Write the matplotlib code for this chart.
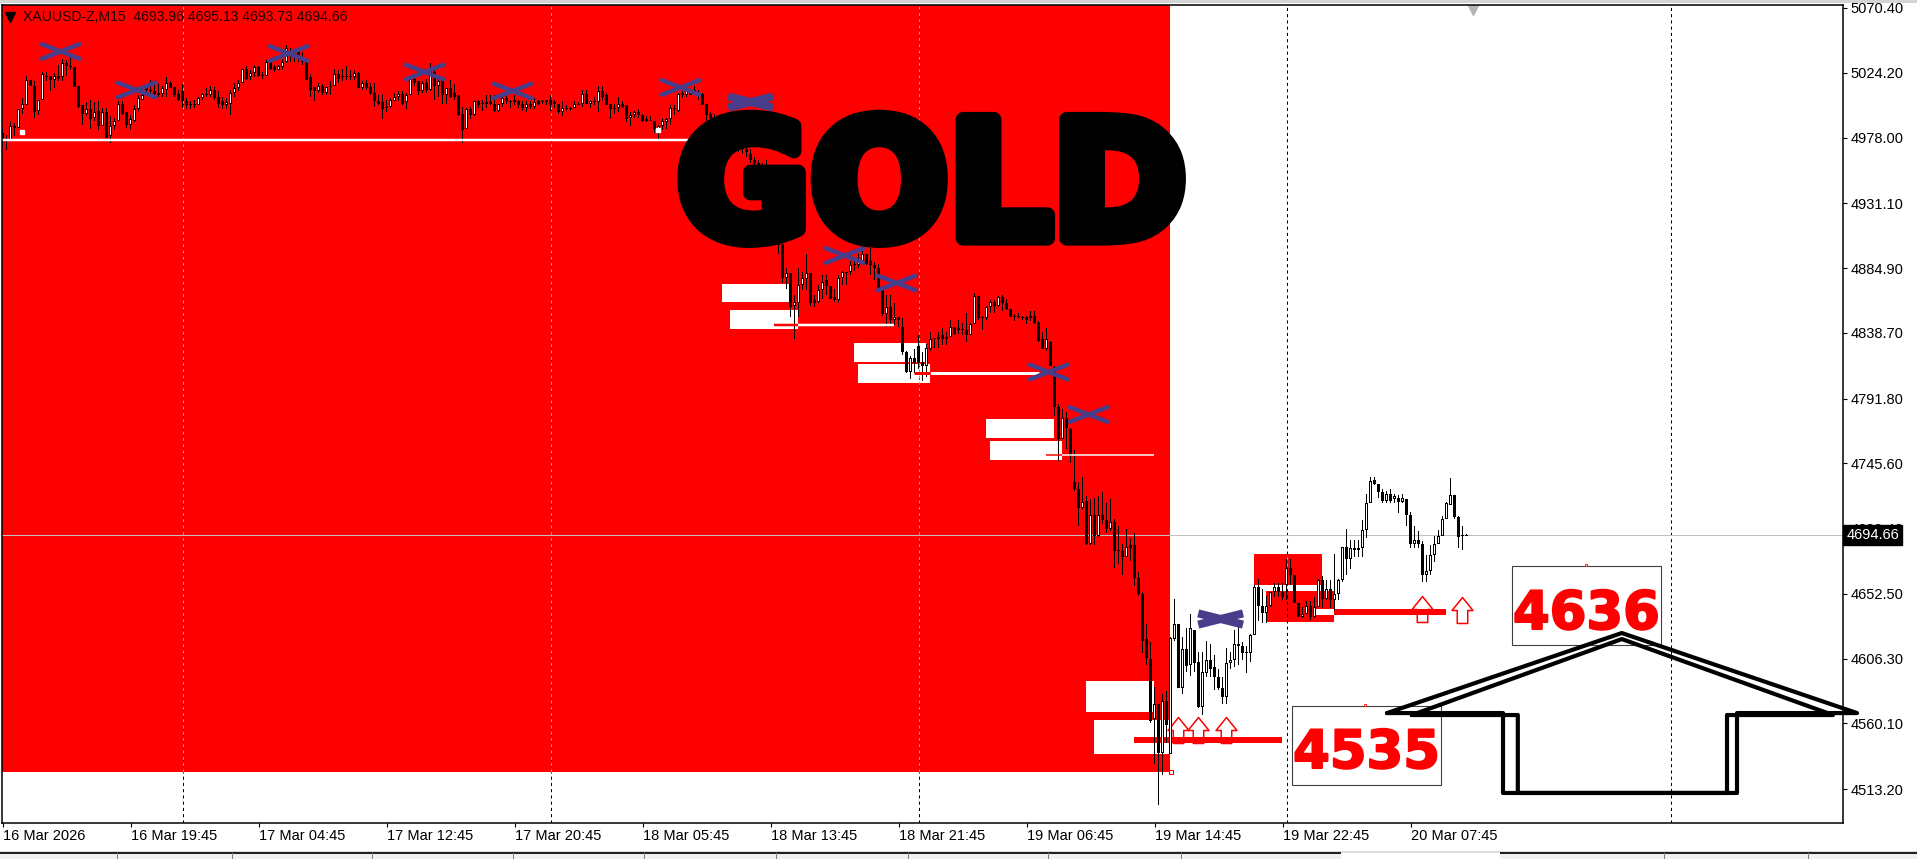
import matplotlib
matplotlib.use("Agg")
import matplotlib.pyplot as plt
import matplotlib.patheffects as pe
from matplotlib.patches import Rectangle
from matplotlib.path import Path

# 1. DATA (M15 bars; part of it sits under the GOLD title)
opens = [
    4981,4976,4976,4986,4985,4998,5001,5019,5015,4997,
    5005,5022,5022,5019,5022,5021,5031,5029,5028,5015,
    5001,4995,4998,4992,4997,4986,4996,4979,4986,4990,
    5002,4996,4987,4990,4998,5005,5013,5012,5011,5010,
    5009,5012,5017,5014,5009,5011,5004,5002,5002,5001,
    5006,5009,5008,5012,5007,5004,5001,5002,5010,5013,
    5017,5027,5021,5024,5028,5022,5022,5032,5028,5026,
    5028,5032,5040,5037,5039,5035,5032,5021,5014,5011,
    5015,5010,5014,5015,5023,5022,5022,5022,5021,5024,
    5013,5017,5014,5010,5004,5003,4999,5000,5004,5007,
    5009,5003,5008,5020,5018,5011,5017,5012,5025,5015,
    5018,5008,5013,5010,5008,4995,4984,4998,4994,5004,
    5002,5002,5003,5002,4997,5002,5006,5004,5005,5004,
    5002,4999,5002,5000,5004,5004,5003,5005,5003,5002,
    4996,4999,4999,4999,5002,5002,5009,5002,5004,5003,
    5011,5008,5002,4999,4999,5002,5001,4992,4994,4996,
    4994,4991,4990,4990,4984,4986,4989,4991,4999,4997,
    5010,5008,5010,5012,5008,5009,5002,4995,4992,4988,
    4984,4980,4978,4976,4974,4972,4970,4966,4962,4960,
    4958,4955,4935,4915,4909,4902,4878,4881,4858,4860,
    4873,4877,4881,4862,4861,4869,4876,4872,4864,4862,
    4878,4882,4882,4887,4887,4890,4895,4890,4887,4885,
    4869,4852,4857,4848,4850,4843,4825,4811,4821,4829,
    4818,4815,4827,4835,4834,4837,4834,4836,4843,4842,
    4841,4841,4837,4845,4865,4849,4849,4857,4861,4858,
    4864,4860,4856,4851,4851,4850,4850,4851,4851,4846,
    4834,4827,4832,4814,4786,4763,4778,4770,4732,4727,
    4714,4719,4688,4709,4694,4709,4705,4699,4704,4684,
    4683,4679,4687,4687,4664,4652,4620,4606,4563,4574,
    4539,4576,4538,4620,4631,4585,4613,4602,4627,4604,
    4572,4596,4605,4600,4593,4585,4579,4603,4605,4617,
    4615,4610,4610,4623,4657,4644,4639,4644,4654,4657,
    4654,4659,4671,4666,4646,4636,4638,4644,4636,4643,
    4662,4649,4656,4648,4652,4662,4686,4677,4685,4684,
    4685,4698,4717,4734,4731,4725,4719,4724,4720,4721,
    4718,4720,4709,4688,4691,4688,4666,4669,4680,4688,
    4694,4706,4716,4723,4707,4694,4693.96,
]
highs = [
    4985,4980,4990,4988,4998,5006,5022,5019,5018,5005,
    5025,5025,5022,5024,5030,5034,5033,5036,5028,5015,
    5001,5003,5005,5003,5004,4999,4999,4993,4992,5004,
    5004,4996,4994,5001,5008,5013,5016,5019,5018,5016,
    5015,5021,5018,5014,5012,5016,5006,5004,5005,5007,
    5010,5013,5015,5014,5011,5007,5006,5012,5017,5019,
    5027,5029,5026,5030,5029,5025,5033,5033,5030,5030,
    5034,5044,5042,5040,5041,5039,5032,5023,5014,5017,
    5016,5014,5018,5027,5026,5027,5029,5026,5026,5025,
    5018,5019,5017,5017,5008,5009,5005,5006,5010,5011,
    5011,5010,5022,5022,5018,5018,5020,5031,5026,5021,
    5020,5013,5019,5016,5008,5000,4999,5000,5004,5005,
    5005,5008,5008,5008,5002,5008,5008,5005,5008,5005,
    5004,5004,5004,5006,5005,5005,5005,5008,5005,5002,
    5004,5001,5000,5004,5003,5012,5012,5005,5007,5015,
    5015,5010,5002,5002,5007,5004,5001,4996,4997,4998,
    4995,4993,4993,4990,4987,4992,4992,5001,5001,5010,
    5011,5013,5012,5015,5012,5010,5002,4996,4995,4990,
    4986,4984,4982,4980,4978,4975,4973,4970,4964,4962,
    4960,4962,4938,4917,4912,4902,4885,4881,4866,4885,
    4882,4895,4881,4866,4873,4880,4880,4872,4870,4880,
    4883,4882,4890,4892,4895,4898,4895,4899,4889,4888,
    4872,4866,4866,4860,4850,4849,4826,4822,4827,4837,
    4825,4831,4839,4835,4839,4842,4839,4848,4843,4848,
    4846,4853,4846,4867,4865,4851,4858,4862,4862,4865,
    4866,4863,4856,4852,4853,4851,4851,4854,4854,4847,
    4839,4842,4833,4815,4788,4784,4782,4771,4755,4732,
    4736,4722,4720,4721,4722,4725,4717,4720,4706,4701,
    4688,4699,4692,4696,4668,4654,4631,4618,4586,4574,
    4581,4583,4622,4649,4631,4622,4628,4638,4627,4611,
    4611,4619,4617,4609,4599,4593,4614,4611,4627,4631,
    4618,4615,4624,4659,4663,4656,4651,4654,4660,4660,
    4660,4677,4677,4666,4646,4643,4647,4647,4650,4663,
    4665,4662,4662,4681,4663,4686,4699,4691,4691,4691,
    4705,4724,4736,4736,4731,4727,4726,4727,4724,4723,
    4724,4720,4711,4701,4697,4690,4680,4687,4694,4698,
    4708,4718,4735,4723,4708,4701,4695.13,
]
lows = [
    4971,4969,4976,4979,4985,4995,5001,5015,4992,4994,
    5005,5018,5011,5013,5018,5018,5022,5026,5014,4999,
    4987,4993,4984,4990,4983,4986,4978,4974,4983,4990,
    4994,4985,4983,4989,4997,5005,5010,5010,5007,5007,
    5007,5007,5013,5007,5004,4999,4998,4998,4999,5001,
    5005,5007,5007,5005,4999,4998,4998,4994,5007,5011,
    5017,5019,5019,5021,5021,5020,5022,5026,5025,5026,
    5026,5031,5032,5032,5032,5030,5019,5007,5004,5010,
    5008,5008,5008,5015,5017,5018,5019,5019,5019,5013,
    5012,5012,5008,5000,5001,4991,4996,4999,5004,5004,
    5001,4998,5008,5015,5008,5010,5010,5011,5005,5007,
    5002,5002,5006,5005,4993,4974,4984,4991,4993,4999,
    4997,4999,5001,4996,4996,5000,5002,4999,5001,4999,
    4997,4996,4998,4998,5001,5002,5001,4997,4999,4995,
    4993,4997,4997,4999,5001,5000,5002,4999,5001,4996,
    5004,5001,4991,4995,4996,4999,4989,4986,4992,4992,
    4989,4989,4990,4981,4976,4983,4984,4987,4994,4996,
    5006,5007,5008,5008,5005,5001,4990,4990,4985,4982,
    4978,4975,4972,4970,4968,4966,4964,4960,4958,4955,
    4940,4930,4915,4905,4895,4874,4870,4850,4834,4850,
    4869,4869,4858,4857,4860,4863,4866,4863,4861,4860,
    4873,4873,4880,4883,4885,4888,4887,4880,4876,4868,
    4851,4843,4843,4844,4843,4823,4810,4806,4810,4813,
    4804,4807,4826,4828,4828,4830,4830,4836,4837,4838,
    4837,4832,4837,4845,4848,4841,4848,4853,4853,4857,
    4854,4855,4850,4847,4849,4848,4845,4847,4845,4832,
    4827,4826,4815,4779,4747,4763,4756,4746,4726,4701,
    4712,4687,4687,4687,4693,4702,4696,4697,4671,4674,
    4666,4679,4676,4658,4651,4610,4602,4560,4531,4502,
    4523,4546,4538,4619,4585,4581,4597,4594,4597,4571,
    4566,4593,4593,4584,4584,4574,4574,4599,4600,4602,
    4605,4596,4604,4623,4633,4632,4632,4643,4650,4650,
    4648,4648,4659,4646,4636,4635,4638,4634,4635,4643,
    4642,4648,4642,4640,4648,4661,4666,4670,4679,4679,
    4679,4692,4717,4730,4721,4717,4717,4717,4717,4710,
    4717,4701,4685,4685,4685,4661,4661,4666,4675,4688,
    4694,4706,4716,4706,4685,4684,4693.73,
]
closes = [
    4975,4977,4986,4985,4998,5002,5019,5015,4996,5005,
    5023,5021,5019,5022,5020,5031,5029,5028,5014,5000,
    4995,4998,4991,4996,4986,4996,4978,4986,4990,5002,
    4995,4987,4991,4998,5006,5008,5012,5011,5009,5008,
    5013,5017,5013,5008,5005,5004,5001,5001,5001,5006,
    5009,5008,5012,5006,5002,5001,5003,5010,5013,5017,
    5027,5020,5024,5028,5022,5022,5032,5027,5026,5029,
    5032,5042,5037,5036,5037,5032,5019,5012,5011,5015,
    5010,5014,5015,5023,5020,5021,5021,5021,5024,5013,
    5017,5013,5010,5004,5002,4998,5000,5005,5007,5009,
    5002,5008,5020,5017,5011,5017,5012,5025,5015,5018,
    5008,5013,5007,5007,4994,4983,4998,4994,5004,5001,
    5002,5003,5002,4997,5002,5006,5004,5003,5003,5001,
    4999,5002,5000,5003,5002,5003,5005,5002,5002,4996,
    4999,4998,4998,5002,5001,5009,5002,5004,5003,5011,
    5007,5001,4998,4998,5002,5000,4991,4994,4996,4994,
    4990,4990,4990,4984,4986,4990,4991,4999,4998,5009,
    5008,5011,5008,5010,5010,5001,4994,4992,4988,4984,
    4980,4978,4976,4974,4972,4970,4968,4962,4960,4958,
    4945,4935,4918,4910,4901,4878,4881,4857,4861,4873,
    4878,4881,4860,4860,4869,4875,4872,4863,4862,4878,
    4882,4881,4887,4888,4890,4895,4888,4887,4885,4868,
    4852,4857,4848,4850,4848,4825,4811,4821,4817,4817,
    4815,4828,4834,4834,4836,4834,4836,4843,4838,4841,
    4841,4837,4845,4865,4849,4849,4857,4861,4858,4864,
    4860,4856,4850,4850,4850,4849,4848,4849,4846,4833,
    4827,4834,4815,4786,4763,4778,4771,4751,4727,4714,
    4718,4688,4709,4694,4709,4705,4699,4704,4683,4683,
    4679,4686,4685,4664,4652,4619,4607,4562,4574,4539,
    4576,4559,4621,4631,4585,4613,4601,4628,4603,4572,
    4597,4605,4599,4593,4585,4579,4603,4605,4617,4615,
    4610,4610,4623,4657,4644,4639,4644,4654,4657,4654,
    4650,4671,4666,4646,4636,4638,4644,4636,4643,4662,
    4649,4656,4648,4652,4662,4686,4677,4685,4684,4685,
    4698,4717,4733,4731,4725,4719,4724,4719,4722,4718,
    4721,4709,4688,4691,4688,4666,4669,4680,4688,4694,
    4706,4717,4723,4707,4693,4694,4694.66,
]

price_ticks = [5070.40, 5024.20, 4978.00, 4931.10, 4884.90, 4838.70, 4791.80,
               4745.60, 4699.40, 4652.50, 4606.30, 4560.10, 4513.20]
time_labels = ["16 Mar 2026", "16 Mar 19:45", "17 Mar 04:45", "17 Mar 12:45",
               "17 Mar 20:45", "18 Mar 05:45", "18 Mar 13:45", "18 Mar 21:45",
               "19 Mar 06:45", "19 Mar 14:45", "19 Mar 22:45", "20 Mar 07:45"]
last_price = 4694.66
separator_bars = [45, 137, 229, 321, 417]

# drawn objects, in bar / price units
cross_bar = [14.5, 33.5, 71.5, 105.5, 127.5, 169.5, 187, 210.5, 223.5, 261.5, 271.5, 304.5]
cross_price = [5039.4, 5011.9, 5037.9, 5024.7, 5011.2, 5013.7, 5003.3, 4893.8, 4874.2,
               4810.7, 4780.4, 4634.5]
arrow_bar = [293.8, 298.8, 305.8, 354.8, 364.8]
arrow_price = [4555.3, 4555.3, 4555.3, 4641.6, 4640.9]

# (bar0, bar1, price0, price1)
white_boxes = [(179.8, 196.6, 4860.6, 4873.5), (181.8, 198.8, 4841.4, 4854.9),
               (212.8, 230.8, 4817.8, 4831.4), (213.8, 231.8, 4802.9, 4816.4),
               (245.8, 262.8, 4763.6, 4777.2), (246.8, 264.8, 4747.9, 4761.5),
               (270.8, 287.8, 4568.2, 4590.3), (272.8, 291.8, 4538.2, 4562.4)]
red_boxes = [(312.8, 329.8, 4658.8, 4680.9), (315.8, 332.8, 4632.4, 4654.5)]

house_outer_x = [346.1, 404.8, 463.6, 433.6, 433.6, 375.1, 375.1, 346.1]
house_outer_y = [4567.4, 4624.5, 4567.4, 4567.4, 4510.4, 4510.4, 4567.4, 4567.4]
house_inner_x = [352.3, 404.8, 457.6, 431.1, 431.1, 378.8, 378.8, 352.3]
house_inner_y = [4566.0, 4620.2, 4566.0, 4566.0, 4510.4, 4510.4, 4566.0, 4566.0]

# 2. FIGURE SETUP
W, H = 1917, 859
RED = "#ff0000"
BLUE = "#483d8b"
plt.rcParams['font.family'] = ['Liberation Sans', 'DejaVu Sans']
fig = plt.figure(figsize=(W / 100, H / 100), dpi=100, facecolor="white")
ax = fig.add_axes([1.5 / W, 1 - 823 / H, (1843 - 1.5) / W, (823 - 5) / H])
ax.set_xlim(-0.29, 460.1)
ax.set_ylim(4488.97, 5072.53)
for s in ax.spines.values():
    s.set_linewidth(1.1)
    s.set_zorder(20)


def box(b, color, z):
    ax.add_patch(Rectangle((b[0], b[2]), b[1] - b[0], b[3] - b[2], fc=color, ec="none", zorder=z))


def hline(price, x0, x1, color, px, z=4):
    ax.plot([x0, x1], [price, price], color=color, lw=px * 0.72, solid_capstyle="butt", zorder=z)


# window chrome
def chrome(x0, y0, x1, y1, color):
    fig.add_artist(Rectangle((x0 / W, 1 - y1 / H), (x1 - x0) / W, (y1 - y0) / H,
                             fc=color, ec="none", transform=fig.transFigure))


chrome(0, 0, W, 3, "#d4d4d4")
chrome(0, 851, W, 853, "#dcdcdc")
chrome(0, 853, 1341, H, "#f0f0f0")
chrome(1500, 853, W, H, "#f0f0f0")
chrome(0, 852, 1341, 853.5, "#202020")
chrome(1500, 852, W, 853.5, "#202020")
for sx in [117, 232, 372, 513, 644, 776, 908, 1048, 1181, 1664, 1808]:
    chrome(sx, 853, sx + 1, H, "#808080")

# 3. BACKGROUND OBJECTS
box((-0.29, 291.8, 4525.4, 5072.53), RED, 1)
for b in white_boxes:
    box(b, "white", 2)
for b in red_boxes:
    box(b, RED, 2)
box((327.6, 332.8, 4637.3, 4641.6), "white", 2.1)

for sb in separator_bars:
    ax.axvline(sb, color="black", lw=0.75, ls=(0, (3, 3)), zorder=2.5)
    if sb < 292:
        ax.plot([sb, sb], [4525.4, 5072.53], color="#00e5e5", lw=0.75, ls=(0, (3, 3)), zorder=2.6)
ax.plot([321, 321], [4658.8, 4680.9], color="#00e5e5", lw=0.75, ls=(0, (3, 3)), zorder=2.6)
ax.axhline(last_price, color="#c0c0c0", lw=0.75, zorder=2.5)

# arrows sit under the thick red lines
arrow = Path([(-0.5, 0), (0, 0.62), (0.5, 0), (0.25, 0), (0.25, -0.62), (-0.25, -0.62), (-0.25, 0), (-0.5, 0)], closed=True)
ax.plot(arrow_bar, arrow_price, ls="none", marker=arrow, ms=18.7, mfc="white", mec=RED, mew=1.1, zorder=2.7)
hline(4548.2, 282.8, 319.8, RED, 6, z=2.8)
hline(4639.5, 332.8, 360.8, RED, 6, z=2.8)

# 4. CANDLES: 3 px black body, up bars get a 1 px white core
px_price = 0.7134
for i in range(len(opens)):
    o, h, l, c = opens[i], highs[i], lows[i], closes[i]
    lo, hi = min(o, c), max(o, c)
    ax.add_patch(Rectangle((i - 0.125, l), 0.25, h - l, fc="black", ec="none", antialiased=False, zorder=3))
    ax.add_patch(Rectangle((i - 0.375, lo), 0.75, max(hi - lo, px_price), fc="black", ec="none",
                           antialiased=False, zorder=3.1))
    if c > o and hi - lo > 2 * px_price:
        ax.add_patch(Rectangle((i - 0.125, lo + px_price), 0.25, hi - lo - 2 * px_price, fc="white", ec="none",
                               antialiased=False, zorder=3.2))

# 5. OBJECTS OVER THE CANDLES
hline(4976.2, -0.29, 171.8, "white", 2.5)
ax.plot([4.9, 163.8], [4981.9, 4983.0], ls="none", marker="s", ms=2.6, color="white", zorder=4)
hline(4844.2, 198.8, 222.8, "white", 2.5)
hline(4844.2, 192.8, 198.8, RED, 2.5)
hline(4810.0, 231.8, 259.1, "white", 3)
hline(4810.0, 227.8, 231.8, RED, 3)
hline(4751.3, 264.8, 287.8, "white", 1.5)
hline(4751.3, 260.8, 264.8, RED, 1.5)
ax.plot([291.97], [4525.4], ls="none", marker="s", ms=3.2, mfc="white", mec=RED, mew=0.8, zorder=4)

for n, (cb, cp) in enumerate(zip(cross_bar, cross_price)):
    thick = n in (6, 11)
    dx, dy, lw = (5.6, 4.0, 5.8) if thick else (4.7, 5.2, 3.2)
    for sign in (1, -1):
        ax.plot([cb - dx, cb + dx], [cp - sign * dy, cp + sign * dy], color=BLUE, lw=lw,
                solid_capstyle="butt" if thick else "round", zorder=5)

# 6. PRICE BOXES
for x0, x1, y0, y1, base, label in [(322.3, 359.6, 4516.1, 4572.4, 4528.2, "4535"),
                                    (377.3, 414.6, 4615.9, 4672.3, 4627.4, "4636")]:
    ax.add_patch(Rectangle((x0, y0), x1 - x0, y1 - y0, fc="white", ec="#404040", lw=0.8, zorder=6))
    ax.text((x0 + x1) / 2, base, label, color=RED, family="DejaVu Sans", weight="bold",
            fontsize=38, ha="center", va="baseline", zorder=6.5,
            path_effects=[pe.withStroke(linewidth=1.5, foreground=RED)])
ax.plot([340.6, 395.8], [4573.1, 4673.0], ls="none", marker="s", ms=2, mfc="white", mec=RED, mew=0.6, zorder=6)

# 7. TITLE AND HOUSE
ax.text(232.3, 4906.3, "GOLD", color="black", family="DejaVu Sans", weight="bold", fontsize=117,
        ha="center", va="baseline", zorder=8,
        path_effects=[pe.withStroke(linewidth=11, foreground="black", capstyle="round", joinstyle="round")])
for hx, hy in [(house_outer_x, house_outer_y), (house_inner_x, house_inner_y)]:
    ax.plot(hx, hy, color="black", lw=3, solid_joinstyle="round", solid_capstyle="round", clip_on=False, zorder=9)

# 8. HEADER, AXES, PRICE TAG
ax.plot([1.83], [5064.3], ls="none", marker="v", ms=6.5, color="black", zorder=7)
ax.text(5.1, 5064.0, "XAUUSD-Z,M15  4693.96 4695.13 4693.73 4694.66", color="#200000", fontsize=10.1,
        va="center", ha="left", zorder=7)
ax.plot([367.6], [5069.8], ls="none", marker="v", ms=8, color="#b4b4b4", zorder=7)

ax.yaxis.tick_right()
ax.set_yticks(price_ticks)
ax.set_yticklabels([f"{p:.2f}" for p in price_ticks], fontsize=10.5)
ax.tick_params(axis="y", length=3, width=0.8, pad=2.5)
ax.set_xticks(range(0, 32 * len(time_labels), 32))
ax.set_xticklabels(time_labels, fontsize=10.5, ha="left")
ax.tick_params(axis="x", length=3, width=0.8, pad=1.5)

ax.text(1.0018, last_price, "4694.66", transform=ax.get_yaxis_transform(), color="white", fontsize=10.5,
        va="center", ha="left", clip_on=False, zorder=21,
        bbox=dict(boxstyle="square,pad=0.2", fc="black", ec="black"))

fig.savefig("out.png", dpi=100)
